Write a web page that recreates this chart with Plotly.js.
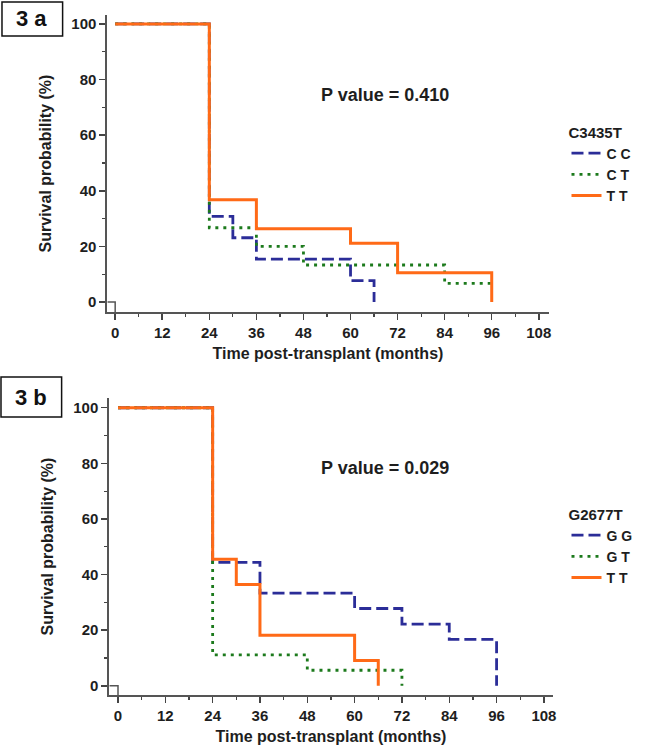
<!DOCTYPE html>
<html>
<head>
<meta charset="utf-8">
<script src="https://cdn.plot.ly/plotly-3.0.1.min.js"></script>
<style>html,body{margin:0;padding:0;background:#fff;}#chart{width:650px;height:749px;}</style>
</head>
<body>
<div id="chart"></div>
<script>
// ---- Data ----
// Panel 3a: C3435T
const timeCC = [0, 24, 30, 36, 60, 66];
const survCC = [100, 30.8, 23.1, 15.4, 7.7, 0];
const timeCT = [0, 24, 36, 48, 84, 96];
const survCT = [100, 26.7, 20.0, 13.3, 6.7, 6.7];
const timeTTa = [0, 24, 36, 60, 72, 96];
const survTTa = [100, 36.8, 26.3, 21.1, 10.5, 0];
// Panel 3b: G2677T
const timeGG = [0, 24, 36, 60, 72, 84, 96];
const survGG = [100, 44.4, 33.3, 27.8, 22.2, 16.7, 0];
const timeGT = [0, 24, 48, 72];
const survGT = [100, 11.1, 5.6, 0];
const timeTTb = [0, 24, 30, 36, 60, 66];
const survTTb = [100, 45.5, 36.4, 18.2, 9.1, 0];

const xTicks = [0, 12, 24, 36, 48, 60, 72, 84, 96, 108];
const yTicks = [0, 20, 40, 60, 80, 100];
const panelLabels = ['3 a', '3 b'];
const pValues = ['P value = 0.410', 'P value = 0.029'];
const legendTitles = ['C3435T', 'G2677T'];
const namesA = ['C C', 'C T', 'T T'];
const namesB = ['G G', 'G T', 'T T'];
const xTitle = 'Time post-transplant (months)';
const yTitle = 'Survival probability (%)';

// ---- Styles ----
const FONT = '"Liberation Sans", Arial, sans-serif';
const TXT = '#1e1e1e';
const BLUE = '#2b2d98';
const GREEN = '#1c7a1c';
const ORANGE = '#ff6a17';
const lineBlue = {color: BLUE, width: 2.8, dash: '12px,5px', shape: 'hv'};
const lineGreen = {color: GREEN, width: 2.8, dash: '3px,5px', shape: 'hv'};
const lineOrange = {color: ORANGE, width: 3, shape: 'hv'};

function tr(x, y, name, line, xa, ya, leg) {
  return {x: x, y: y, name: name, type: 'scatter', mode: 'lines', line: line,
          xaxis: xa, yaxis: ya, legend: leg, hoverinfo: 'x+y+name'};
}

const data = [
  tr(timeCC, survCC, namesA[0], lineBlue, 'x', 'y', 'legend'),
  tr(timeCT, survCT, namesA[1], lineGreen, 'x', 'y', 'legend'),
  tr(timeTTa, survTTa, namesA[2], lineOrange, 'x', 'y', 'legend'),
  tr(timeGG, survGG, namesB[0], lineBlue, 'x2', 'y2', 'legend2'),
  tr(timeGT, survGT, namesB[1], lineGreen, 'x2', 'y2', 'legend2'),
  tr(timeTTb, survTTb, namesB[2], lineOrange, 'x2', 'y2', 'legend2')
];

const tickFont = {family: FONT, size: 15, color: TXT, weight: 'bold'};
const titleFont = {family: FONT, size: 16, color: TXT, weight: 'bold'};

function xAxis(domain, range, anchor) {
  return {
    domain: domain, range: range, anchor: anchor,
    tickmode: 'array', tickvals: xTicks, ticktext: xTicks.map(String),
    ticks: 'outside', ticklen: 6, tickwidth: 1.5, tickcolor: '#444',
    minor: {dtick: 6, tick0: 0, ticks: 'outside', ticklen: 3, tickwidth: 1.2, tickcolor: '#444', showgrid: false},
    showline: true, linecolor: '#555', linewidth: 2,
    showgrid: false, zeroline: false, tickfont: tickFont,
    title: {text: xTitle, font: titleFont, standoff: 8}, automargin: true, fixedrange: true
  };
}
function yAxis(domain, range, anchor) {
  return {
    domain: domain, range: range, anchor: anchor,
    tickmode: 'array', tickvals: yTicks, ticktext: yTicks.map(String),
    ticks: 'outside', ticklen: 6, tickwidth: 1.5, tickcolor: '#444',
    minor: {dtick: 10, tick0: 0, ticks: 'outside', ticklen: 3, tickwidth: 1.2, tickcolor: '#444', showgrid: false},
    showline: true, linecolor: '#555', linewidth: 2,
    showgrid: false, zeroline: false, tickfont: tickFont,
    title: {text: yTitle, font: titleFont, standoff: 16}, automargin: true, fixedrange: true
  };
}

const xr1 = [-2, 110.5], yr1 = [-3.6, 103.2];
const xr2 = [-2.2, 110.2], yr2 = [-3.3, 103.5];

function legendCfg(y, title) {
  return {
    x: 570/650, xanchor: 'left', y: y, yanchor: 'top',
    bgcolor: 'rgba(0,0,0,0)', borderwidth: 0,
    font: {family: FONT, size: 14, color: TXT, weight: 'bold'},
    title: {text: title, font: {family: FONT, size: 15, color: TXT, weight: 'bold'}, side: 'top'},
    itemwidth: 30, tracegroupgap: 0
  };
}

const layout = {
  width: 650, height: 749,
  margin: {l: 0, r: 0, t: 0, b: 0},
  paper_bgcolor: '#ffffff', plot_bgcolor: '#ffffff',
  font: {family: FONT, color: TXT},
  showlegend: true,
  xaxis: xAxis([108/650, 552/650], xr1, 'y'),
  yaxis: yAxis([1 - 312/749, 1 - 15/749], yr1, 'x'),
  xaxis2: xAxis([110/650, 556/650], xr2, 'y2'),
  yaxis2: yAxis([1 - 695/749, 1 - 398/749], yr2, 'x2'),
  legend: legendCfg(1 - 118/749, legendTitles[0]),
  legend2: legendCfg(1 - 500/749, legendTitles[1]),
  shapes: [
    {type: 'rect', xref: 'paper', yref: 'paper', x0: 2/650, x1: 63/650, y0: 1 - 36/749, y1: 1 - 2/749,
     line: {color: '#111', width: 1.5}, fillcolor: 'rgba(0,0,0,0)'},
    {type: 'rect', xref: 'paper', yref: 'paper', x0: 1/650, x1: 62/650, y0: 1 - 417/749, y1: 1 - 377/749,
     line: {color: '#111', width: 1.5}, fillcolor: 'rgba(0,0,0,0)'},
    {type: 'path', xref: 'x', yref: 'y', path: 'M' + xr1[0] + ',0 L0,0 L0,' + yr1[0],
     line: {color: '#555', width: 1.5}},
    {type: 'path', xref: 'x2', yref: 'y2', path: 'M' + xr2[0] + ',0 L0,0 L0,' + yr2[0],
     line: {color: '#555', width: 1.5}}
  ],
  annotations: [
    {text: panelLabels[0], xref: 'paper', yref: 'paper', x: 32/650, y: 1 - 19/749, showarrow: false,
     xanchor: 'center', yanchor: 'middle', font: {family: FONT, size: 22, color: '#111', weight: 'bold'}},
    {text: panelLabels[1], xref: 'paper', yref: 'paper', x: 31/650, y: 1 - 397/749, showarrow: false,
     xanchor: 'center', yanchor: 'middle', font: {family: FONT, size: 22, color: '#111', weight: 'bold'}},
    {text: pValues[0], xref: 'paper', yref: 'paper', x: 387/650, y: 1 - 95/749, showarrow: false,
     xanchor: 'center', yanchor: 'middle', font: {family: FONT, size: 18, color: TXT, weight: 'bold'}},
    {text: pValues[1], xref: 'paper', yref: 'paper', x: 387/650, y: 1 - 468/749, showarrow: false,
     xanchor: 'center', yanchor: 'middle', font: {family: FONT, size: 18, color: TXT, weight: 'bold'}}
  ]
};

Plotly.newPlot('chart', data, layout, {displayModeBar: false, staticPlot: true});
</script>
</body>
</html>
